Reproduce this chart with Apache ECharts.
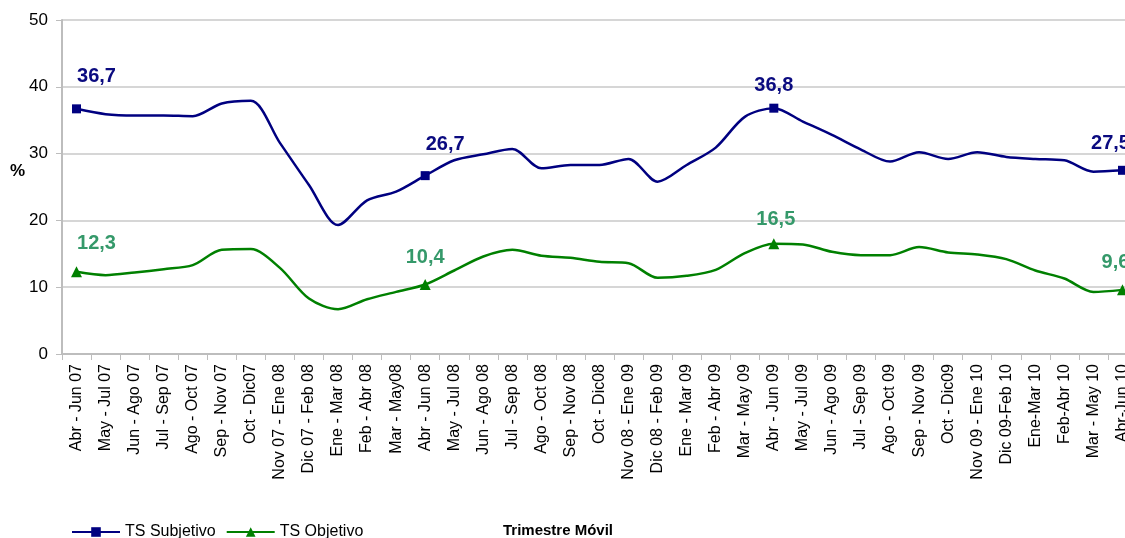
<!DOCTYPE html>
<html>
<head>
<meta charset="utf-8">
<script src="https://cdn.jsdelivr.net/npm/echarts@6/dist/echarts.min.js"></script>
<style>
  html, body { margin: 0; padding: 0; background: #fff; }
  #chart { width: 1125px; height: 538px; }
</style>
</head>
<body>
<div id="chart"></div>
<script>
const categories = [
  'Abr - Jun 07', 'May - Jul 07', 'Jun - Ago 07', 'Jul - Sep 07', 'Ago - Oct 07', 'Sep - Nov 07',
  'Oct - Dic07', 'Nov 07 - Ene 08', 'Dic 07 - Feb 08', 'Ene - Mar 08', 'Feb - Abr 08', 'Mar - May08',
  'Abr - Jun 08', 'May - Jul 08', 'Jun - Ago 08', 'Jul - Sep 08', 'Ago - Oct 08', 'Sep - Nov 08',
  'Oct - Dic08', 'Nov 08 - Ene 09', 'Dic 08 - Feb 09', 'Ene - Mar 09', 'Feb - Abr 09', 'Mar - May 09',
  'Abr - Jun 09', 'May - Jul 09', 'Jun - Ago 09', 'Jul - Sep 09', 'Ago - Oct 09', 'Sep - Nov 09',
  'Oct - Dic09', 'Nov 09 - Ene 10', 'Dic 09-Feb 10', 'Ene-Mar 10', 'Feb-Abr 10', 'Mar - May 10',
  'Abr-Jun 10'
]

const subjetivo = [
  36.7, 35.9, 35.7, 35.7, 35.6, 37.5, 37.9, 31.6, 25.3, 19.3, 23.0, 24.3,
  26.7, 29.0, 29.9, 30.7, 27.8, 28.3, 28.3, 29.2, 25.8, 28.3, 30.9, 35.5,
  36.8, 34.8, 32.8, 30.6, 28.8, 30.2, 29.2, 30.2, 29.5, 29.2, 29.0, 27.3,
  27.5
]

const objetivo = [
  12.3, 11.8, 12.2, 12.7, 13.3, 15.6, 15.7, 12.9, 8.3, 6.7, 8.2, 9.3,
  10.4, 12.5, 14.6, 15.6, 14.7, 14.4, 13.8, 13.6, 11.4, 11.7, 12.6, 15.1,
  16.5, 16.4, 15.3, 14.8, 14.8, 16.0, 15.2, 14.9, 14.2, 12.5, 11.3, 9.3,
  9.6
]

// points that carry a marker and a value label
const markedIdx = [0, 12, 24, 36]
const subjOffsets = [[20, -4], [20, -3], [0, 6], [-12, 2]]
const objOffsets = [[20, 1], [0, 2], [2, 5], [-7, 2]]

const fmt = v => String(v.toFixed(1)).replace('.', ',')

function buildData(values, offsets, color) {
  return values.map((v, i) => {
    const k = markedIdx.indexOf(i)
    if (k < 0) return { value: v, symbol: 'none' }
    return {
      value: v,
      label: {
        show: true,
        position: 'top',
        offset: offsets[k],
        distance: 14,
        formatter: p => fmt(p.value),
        color: color,
        fontSize: 20,
        fontWeight: 'bold',
        fontFamily: 'Liberation Sans, Arial, sans-serif'
      }
    }
  })
}

const chart = echarts.init(document.getElementById('chart'))

chart.setOption({
  animation: false,
  textStyle: { fontFamily: 'Liberation Sans, Arial, sans-serif' },
  grid: { left: 62, right: -12, top: 20, bottom: 184, containLabel: false, outerBoundsMode: 'none' },
  legend: {
    left: 66,
    top: 519,
    itemWidth: 48,
    itemHeight: 12,
    itemGap: 10,
    textStyle: { fontSize: 16, color: '#000' },
    data: ['TS Subjetivo', 'TS Objetivo']
  },
  graphic: [
    {
      type: 'text',
      left: 10,
      top: 163,
      style: { text: '%', fontSize: 17, fontWeight: 'bold', fill: '#000', fontFamily: 'Liberation Sans, Arial, sans-serif' }
    },
    {
      type: 'text',
      left: 503,
      top: 523,
      style: { text: 'Trimestre Móvil', fontSize: 15, fontWeight: 'bold', fill: '#000', fontFamily: 'Liberation Sans, Arial, sans-serif' }
    }
  ],
  xAxis: {
    type: 'category',
    data: categories,
    boundaryGap: true,
    axisLine: { lineStyle: { color: '#bdbdbd', width: 2 } },
    axisTick: { show: true, length: 6, lineStyle: { color: '#bdbdbd', width: 1 } },
    axisLabel: { rotate: 90, interval: 0, fontSize: 16, color: '#000', margin: 10 },
    splitLine: { show: false }
  },
  yAxis: {
    type: 'value',
    min: 0,
    max: 50,
    interval: 10,
    axisLine: { show: true, lineStyle: { color: '#bdbdbd', width: 2 } },
    axisTick: { show: true, length: 6, lineStyle: { color: '#bdbdbd' } },
    axisLabel: { fontSize: 17, color: '#000', margin: 14 },
    splitLine: { lineStyle: { color: '#c8c8c8', width: 1.5 } }
  },
  series: [
    {
      name: 'TS Subjetivo',
      type: 'line',
      smooth: 0.3,
      symbol: 'rect',
      symbolSize: 9,
      data: buildData(subjetivo, subjOffsets, '#0b0b80'),
      itemStyle: { color: '#000080' },
      lineStyle: { color: '#000080', width: 2.5 }
    },
    {
      name: 'TS Objetivo',
      type: 'line',
      smooth: 0.3,
      symbol: 'triangle',
      symbolSize: 11,
      data: buildData(objetivo, objOffsets, '#35996a'),
      itemStyle: { color: '#008000' },
      lineStyle: { color: '#008000', width: 2.5 }
    }
  ]
})
</script>
</body>
</html>
